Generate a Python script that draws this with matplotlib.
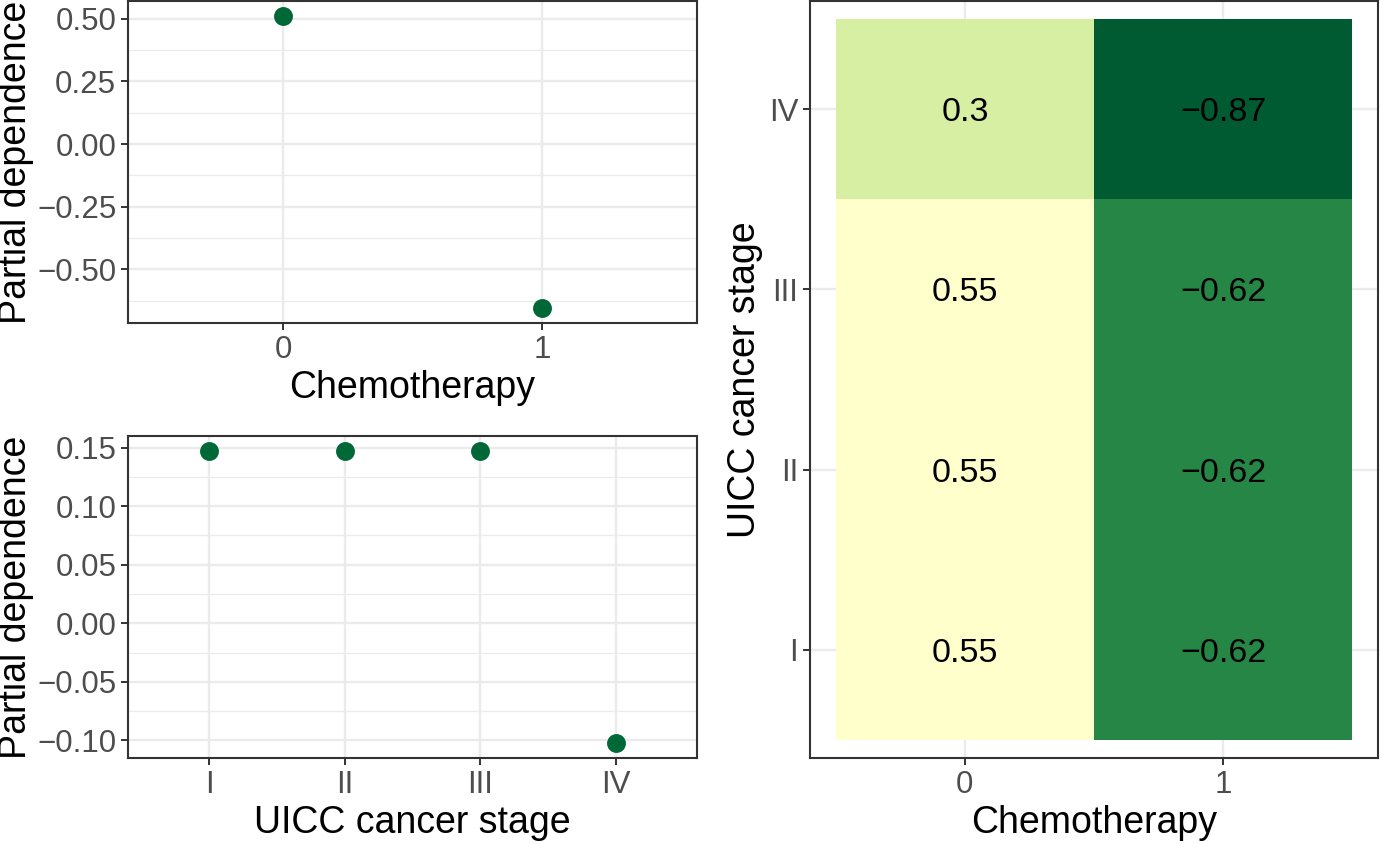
import matplotlib
matplotlib.use("Agg")
import matplotlib.pyplot as plt
from matplotlib.colors import LinearSegmentedColormap, Normalize
import numpy as np

plt.rcParams['font.family'] = ['Liberation Sans', 'DejaVu Sans']

# Data
chemo_levels = ['0', '1']
chemo_pd = [0.512, -0.655]

stage_levels = ['I', 'II', 'III', 'IV']
stage_pd = [0.1474, 0.1474, 0.1474, -0.1026]

# interaction: rows = stage I..IV, columns = chemotherapy 0, 1
heat_vals = np.array([[0.55, -0.62],
                      [0.55, -0.62],
                      [0.55, -0.62],
                      [0.30, -0.87]])

# Style
point_col = '#006837'
ylgn = ['#ffffcc', '#d9f0a3', '#addd8e', '#78c679', '#41ab5d', '#238443', '#005a32']
grid_col = '#ebebeb'
border_col = '#333333'
tick_col = '#4d4d4d'
tick_fs = 22.5
title_fs = 27


def style_axes(ax):
    ax.set_axisbelow(True)
    for sp in ax.spines.values():
        sp.set_color(border_col)
        sp.set_linewidth(1.5)
    ax.tick_params(length=5, width=1.4, color=border_col, labelcolor=tick_col,
                   labelsize=tick_fs, pad=3.5)
    ax.grid(which='major', color=grid_col, linewidth=1.7)


fig = plt.figure(figsize=(13.8, 8.44), dpi=100)
W, H = 1380, 844

def add_ax(l, t, r, b):
    return fig.add_axes([l / W, (H - b) / H, (r - l) / W, (b - t) / H])

# Top-left: chemotherapy
ax1 = add_ax(128, 1, 697, 323)
x1 = np.arange(len(chemo_levels))
ax1.scatter(x1, chemo_pd, s=185, color=point_col, zorder=3, linewidths=0)
ax1.set_xlim(-0.6, 1.6)
rng = max(chemo_pd) - min(chemo_pd)
ax1.set_ylim(min(chemo_pd) - 0.05 * rng, max(chemo_pd) + 0.05 * rng)
ax1.set_xticks(x1, chemo_levels)
ax1.set_yticks([-0.5, -0.25, 0, 0.25, 0.5], ['−0.50', '−0.25', '0.00', '0.25', '0.50'])
ax1.set_yticks([-0.625, -0.375, -0.125, 0.125, 0.375], minor=True)
style_axes(ax1)
ax1.tick_params(which='minor', length=0)
ax1.grid(which='minor', axis='y', color=grid_col, linewidth=0.9)
ax1.set_xlabel('Chemotherapy', fontsize=title_fs, labelpad=4)
ax1.set_ylabel('Partial dependence', fontsize=title_fs, labelpad=2)

# Bottom-left: stage
ax2 = add_ax(128, 436, 697, 758)
x2 = np.arange(len(stage_levels))
ax2.scatter(x2, stage_pd, s=185, color=point_col, zorder=3, linewidths=0)
ax2.set_xlim(-0.6, 3.6)
rng = max(stage_pd) - min(stage_pd)
ax2.set_ylim(min(stage_pd) - 0.05 * rng, max(stage_pd) + 0.05 * rng)
ax2.set_xticks(x2, stage_levels)
ax2.set_yticks([-0.10, -0.05, 0, 0.05, 0.10, 0.15],
               ['−0.10', '−0.05', '0.00', '0.05', '0.10', '0.15'])
ax2.set_yticks([-0.075, -0.025, 0.025, 0.075, 0.125], minor=True)
style_axes(ax2)
ax2.tick_params(which='minor', length=0)
ax2.grid(which='minor', axis='y', color=grid_col, linewidth=0.9)
ax2.set_xlabel('UICC cancer stage', fontsize=title_fs, labelpad=4)
ax2.set_ylabel('Partial dependence', fontsize=title_fs, labelpad=2)

# Right: heatmap
ax3 = add_ax(810, 1, 1378, 758)
cmap = LinearSegmentedColormap.from_list('ylgn_r', ylgn[::-1])
norm = Normalize(vmin=heat_vals.min(), vmax=heat_vals.max())
nx, ny = len(chemo_levels), len(stage_levels)
ax3.pcolormesh(np.arange(nx + 1) - 0.5, np.arange(ny + 1) - 0.5, heat_vals,
               cmap=cmap, norm=norm, zorder=2, edgecolors='none')
for i in range(ny):
    for j in range(nx):
        v = heat_vals[i, j]
        lab = f"{v:g}".replace('-', '−')
        ax3.text(j, i, lab, ha='center', va='center_baseline', fontsize=24.5,
                 color='black', zorder=3)
ax3.set_xlim(-0.6, nx - 0.4)
ax3.set_ylim(-0.6, ny - 0.4)
ax3.set_xticks(np.arange(nx), chemo_levels)
ax3.set_yticks(np.arange(ny), stage_levels)
style_axes(ax3)
ax3.set_xlabel('Chemotherapy', fontsize=title_fs, labelpad=4)
ax3.set_ylabel('UICC cancer stage', fontsize=title_fs, labelpad=4)

fig.savefig('out.png', dpi=100)
